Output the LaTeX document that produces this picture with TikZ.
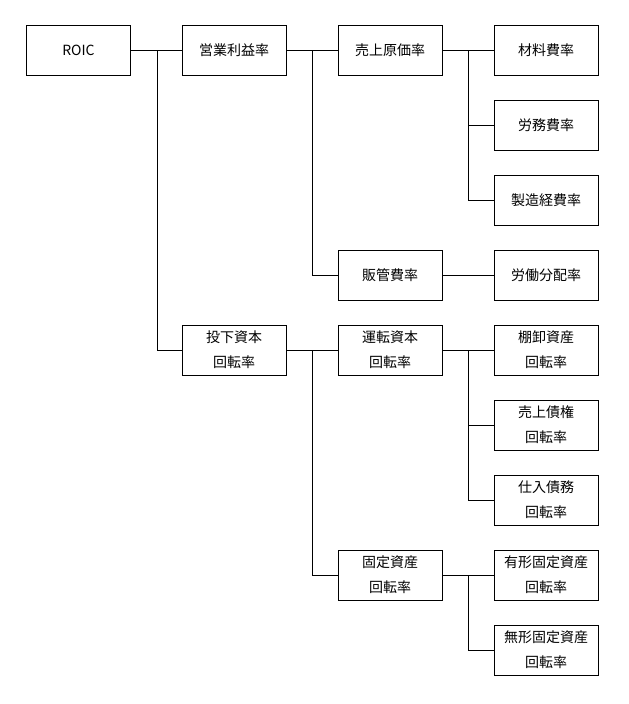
\documentclass[tikz,border=0pt]{standalone}
\usepackage{fontspec}
\setmainfont{Noto Sans CJK JP}
\begin{document}
\begin{tikzpicture}[x=1pt,y=-1pt,
  box/.style={draw, line width=0.9pt, minimum width=104pt, minimum height=50pt, inner sep=0pt, align=center, font=\fontsize{14}{25}\selectfont},
  conn/.style={line width=0.9pt}]
\useasboundingbox (0,0) rectangle (629,704);
\node[box] (roic) at (78.5,50) {ROIC};
\node[box] (eig) at (234,50) {営業利益率};
\node[box] (uri) at (390,50) {売上原価率};
\node[box] (zai) at (546,50) {材料費率};
\node[box] (rom) at (546,125) {労務費率};
\node[box] (sei) at (546,200) {製造経費率};
\node[box] (han) at (390,275) {販管費率};
\node[box] (rod) at (546,275) {労働分配率};
\node[box] (tou) at (234,350) {投下資本\\回転率};
\node[box] (unt) at (390,350) {運転資本\\回転率};
\node[box] (tan) at (546,350) {棚卸資産\\回転率};
\node[box] (urs) at (546,425) {売上債権\\回転率};
\node[box] (shi) at (546,500) {仕入債務\\回転率};
\node[box] (kot) at (390,575) {固定資産\\回転率};
\node[box] (yuk) at (546,575) {有形固定資産\\回転率};
\node[box] (muk) at (546,650) {無形固定資産\\回転率};
% connectors
\draw[conn] (roic.east) -- (eig.west);
\draw[conn] (roic.east) -- ++(26,0) |- (tou.west);
\draw[conn] (eig.east) -- (uri.west);
\draw[conn] (eig.east) -- ++(26,0) |- (han.west);
\draw[conn] (uri.east) -- (zai.west);
\draw[conn] (uri.east) -- ++(26,0) |- (rom.west);
\draw[conn] (uri.east) -- ++(26,0) |- (sei.west);
\draw[conn] (han.east) -- (rod.west);
\draw[conn] (tou.east) -- (unt.west);
\draw[conn] (tou.east) -- ++(26,0) |- (kot.west);
\draw[conn] (unt.east) -- (tan.west);
\draw[conn] (unt.east) -- ++(26,0) |- (urs.west);
\draw[conn] (unt.east) -- ++(26,0) |- (shi.west);
\draw[conn] (kot.east) -- (yuk.west);
\draw[conn] (kot.east) -- ++(26,0) |- (muk.west);
\end{tikzpicture}
\end{document}
